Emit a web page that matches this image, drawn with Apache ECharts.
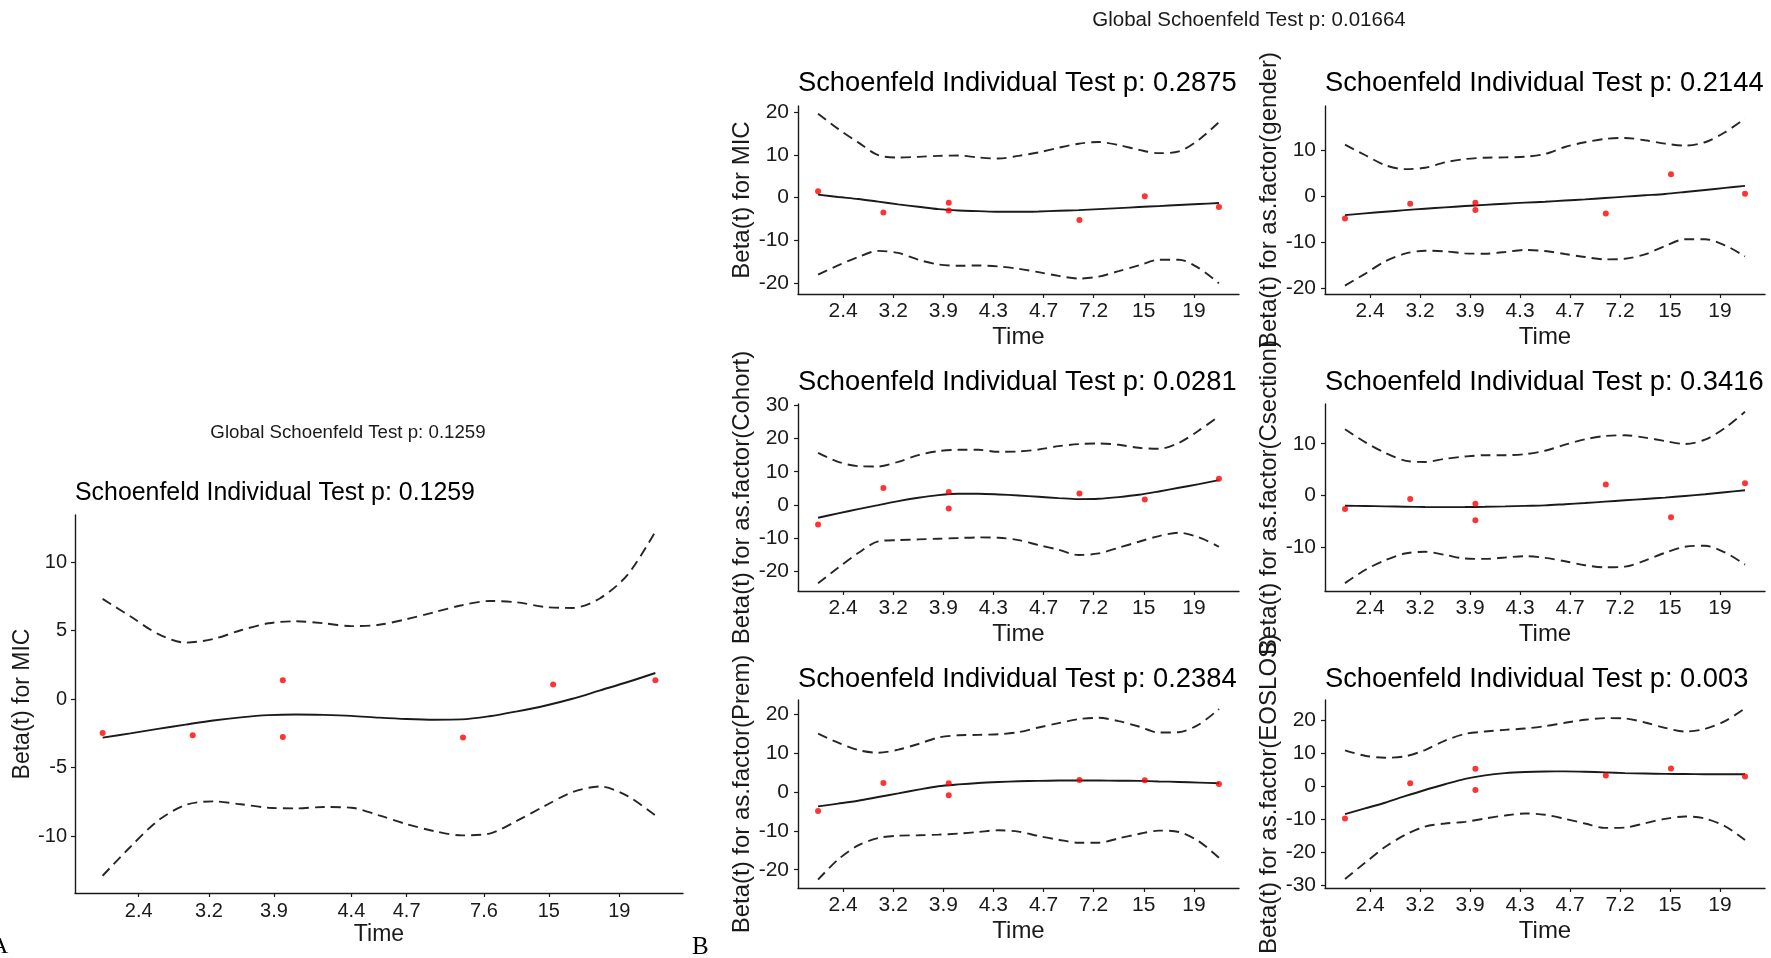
<!DOCTYPE html>
<html>
<head>
<meta charset="utf-8">
<script src="https://cdn.jsdelivr.net/npm/echarts@6/dist/echarts.min.js"></script>
<style>
html, body { margin: 0; padding: 0; background: #fff; }
#main { width: 1771px; height: 958px; }
</style>
</head>
<body>
<div id="main"></div>
<script>
// km-transformed time of each event (x of the scaled Schoenfeld residuals)
const eventX = [0, 0.163, 0.326, 0.326, 0.652, 0.815, 1];
// x positions where the smoothed beta(t) and its confidence band are tabulated
const curveX = [0, 0.05, 0.1, 0.15, 0.2, 0.25, 0.3, 0.35, 0.4, 0.45, 0.5,
                0.55, 0.6, 0.65, 0.7, 0.75, 0.8, 0.85, 0.9, 0.95, 1];
// time axes: tick positions on the transformed scale and their time labels
const timeTickAtA = [0.0653, 0.1924, 0.31, 0.45, 0.55, 0.69, 0.8073, 0.9347];
const timeLabelsA = ['2.4', '3.2', '3.9', '4.4', '4.7', '7.6', '15', '19'];
const timeTickAtB = [0.0625, 0.1875, 0.3125, 0.4375, 0.5625, 0.6875, 0.8125, 0.9375];
const timeLabelsB = ['2.4', '3.2', '3.9', '4.3', '4.7', '7.2', '15', '19'];

// A: model with MIC only
const residA = [-2.47, -2.63, 1.38, -2.76, -2.81, 1.07, 1.38];
const fitA   = [-2.81, -2.5, -2.17, -1.86, -1.56, -1.33, -1.17, -1.12, -1.15, -1.22, -1.35, -1.45, -1.5, -1.48, -1.25, -0.89, -0.48, 0.03, 0.64, 1.25, 1.91];
const upperA = [7.32, 6.05, 4.77, 4.13, 4.39, 5.03, 5.54, 5.69, 5.54, 5.33, 5.43, 5.84, 6.35, 6.86, 7.17, 7.07, 6.73, 6.66, 7.37, 9.1, 12.24];
const lowerA = [-12.9, -10.8, -8.88, -7.73, -7.47, -7.68, -7.93, -7.98, -7.88, -7.93, -8.49, -9.13, -9.64, -9.95, -9.82, -8.88, -7.8, -6.79, -6.38, -7.09, -8.5];
const yTicksA = [-10, -5, 0, 5, 10];

// B: adjusted model, MIC
const residMIC = [1.5, -3.46, -1.18, -2.99, -5.2, 0.31, -2.2];
const fitMIC   = [0.71, 0.16, -0.31, -0.94, -1.57, -2.13, -2.68, -2.99, -3.15, -3.31, -3.31, -3.23, -3.07, -2.91, -2.68, -2.44, -2.2, -1.97, -1.73, -1.5, -1.26];
const upperMIC = [19.6, 16.06, 12.9, 9.92, 9.37, 9.53, 9.76, 9.84, 9.37, 9.13, 9.76, 10.55, 11.65, 12.6, 12.99, 12.28, 11.18, 10.39, 10.79, 13.54, 17.64];
const lowerMIC = [-17.95, -15.83, -13.86, -12.44, -12.91, -14.49, -15.59, -15.91, -15.83, -16.06, -16.61, -17.4, -18.27, -18.9, -18.43, -17.17, -15.83, -14.49, -14.49, -16.46, -20.0];
const yTicksMIC = [-20, -10, 0, 10, 20];

// B: gender
const residGender = [-4.8, -1.6, -1.38, -2.99, -3.71, 4.81, 0.58];
const fitGender   = [-4.08, -3.7, -3.35, -3.0, -2.69, -2.4, -2.11, -1.85, -1.6, -1.38, -1.17, -0.92, -0.66, -0.37, -0.07, 0.22, 0.51, 0.93, 1.38, 1.82, 2.26];
const upperGender = [11.2, 8.96, 6.77, 5.9, 6.19, 7.36, 8.08, 8.38, 8.45, 8.59, 9.18, 10.71, 11.73, 12.45, 12.67, 12.16, 11.43, 11.0, 11.73, 13.91, 16.9];
const lowerGender = [-19.37, -16.82, -14.13, -12.45, -11.8, -11.94, -12.38, -12.45, -12.09, -11.65, -11.87, -12.53, -13.18, -13.69, -13.55, -12.6, -10.78, -9.32, -9.32, -10.63, -13.04];
const yTicksGender = [-20, -10, 0, 10];

// B: Cohort
const residCohort = [-5.95, 5.04, 3.83, -1.11, 3.43, 1.61, 7.86];
const fitCohort   = [-3.93, -2.62, -1.31, -0.1, 1.11, 2.12, 2.92, 3.33, 3.33, 3.13, 2.82, 2.42, 2.02, 1.71, 1.81, 2.32, 3.02, 4.03, 5.14, 6.25, 7.46];
const upperCohort = [15.73, 13.0, 11.69, 11.59, 13.0, 15.02, 16.23, 16.63, 16.63, 16.03, 16.13, 16.73, 17.74, 18.35, 18.55, 18.15, 17.24, 16.94, 18.75, 22.48, 26.81];
const lowerCohort = [-23.79, -19.05, -14.62, -11.09, -10.69, -10.48, -10.28, -10.08, -9.88, -9.98, -10.69, -12.2, -13.61, -15.22, -14.72, -13.0, -11.19, -9.48, -8.47, -9.88, -12.7];
const yTicksCohort = [-20, -10, 0, 10, 20, 30];

// B: Csection
const residCsection = [-2.6, -0.65, -1.56, -4.74, 2.14, -4.16, 2.4];
const fitCsection   = [-1.95, -2.0, -2.08, -2.15, -2.21, -2.22, -2.21, -2.16, -2.08, -1.98, -1.88, -1.66, -1.43, -1.17, -0.91, -0.65, -0.39, -0.07, 0.26, 0.65, 1.04];
const upperCsection = [12.79, 10.32, 8.25, 6.75, 6.49, 7.08, 7.53, 7.79, 7.79, 7.99, 8.64, 9.81, 10.84, 11.49, 11.62, 11.17, 10.52, 9.94, 10.78, 13.05, 16.17];
const lowerCsection = [-16.88, -14.35, -12.47, -11.17, -10.84, -11.43, -12.14, -12.21, -11.95, -11.69, -12.01, -12.66, -13.44, -13.83, -13.7, -12.53, -11.04, -9.87, -9.68, -10.97, -13.31];
const yTicksCsection = [-10, 0, 10];

// B: Prem
const residPrem = [-4.92, 2.33, 2.25, -0.86, 3.11, 3.02, 2.07];
const fitPrem   = [-3.71, -3.0, -2.25, -1.3, -0.35, 0.6, 1.47, 1.95, 2.33, 2.58, 2.76, 2.87, 2.94, 2.95, 2.94, 2.9, 2.85, 2.72, 2.59, 2.42, 2.25];
const upperPrem = [15.03, 12.7, 10.8, 10.11, 10.89, 12.35, 14.0, 14.6, 14.69, 14.86, 15.38, 16.59, 17.71, 18.75, 19.09, 18.23, 16.85, 15.29, 15.38, 17.37, 21.34];
const lowerPrem = [-22.55, -17.37, -13.74, -11.84, -11.23, -11.14, -10.97, -10.71, -10.28, -9.85, -10.19, -11.32, -12.27, -13.05, -13.05, -11.92, -10.8, -9.94, -10.28, -12.7, -16.93];
const yTicksPrem = [-20, -10, 0, 10, 20];

// B: EOSLOS
const residEOSLOS = [-9.74, 0.91, 5.27, -1.12, 3.25, 5.38, 2.94];
const fitEOSLOS   = [-8.42, -6.7, -4.97, -3.0, -1.12, 0.6, 2.23, 3.3, 3.96, 4.3, 4.46, 4.5, 4.4, 4.2, 3.98, 3.85, 3.75, 3.7, 3.65, 3.65, 3.65];
const upperEOSLOS = [10.85, 9.23, 8.62, 9.03, 10.95, 13.79, 15.82, 16.53, 17.04, 17.44, 18.15, 19.17, 20.08, 20.59, 20.49, 19.27, 17.65, 16.53, 17.34, 19.68, 23.53];
const lowerEOSLOS = [-27.99, -23.12, -18.36, -14.71, -12.17, -11.26, -10.75, -9.74, -8.82, -8.22, -8.62, -9.84, -11.26, -12.58, -12.47, -11.16, -9.84, -9.13, -9.74, -12.07, -16.23];
const yTicksEOSLOS = [-30, -20, -10, 0, 10, 20];

const SANS = '"Liberation Sans", Arial, Helvetica, sans-serif';
const SERIF = '"Liberation Serif", "Times New Roman", serif';
const INK = '#1a1a1a';

// text sizes and gaps for the single panel (A) and the six-panel block (B)
const styleA = { tick: 20, name: 23, title: 24.9, xGap: 30.5, yGap: 40, xMargin: 8, yMargin: 8 };
const styleB = { tick: 21, name: 24, title: 27.3, xGap: 31.5, yGap: 44, xMargin: 7, yMargin: 9 };
const axisA = { ticks: timeTickAtA, labels: timeLabelsA };
const axisB = { ticks: timeTickAtB, labels: timeLabelsB };
const panels = [
  { p: '0.1259', yName: 'Beta(t) for MIC', resid: residA, fit: fitA, upper: upperA, lower: lowerA,
    yTicks: yTicksA, yMin: -14.16, yMax: 13.45, time: axisA, st: styleA,
    box: { left: 75, top: 515, width: 608, height: 378 }, titleY: 493 },
  { p: '0.2875', yName: 'Beta(t) for MIC', resid: residMIC, fit: fitMIC, upper: upperMIC, lower: lowerMIC,
    yTicks: yTicksMIC, yMin: -22.5, yMax: 21.4, time: axisB, st: styleB,
    box: { left: 798, top: 106, width: 441, height: 188 }, titleY: 83 },
  { p: '0.2144', yName: 'Beta(t) for as.factor(gender)', resid: residGender, fit: fitGender, upper: upperGender, lower: lowerGender,
    yTicks: yTicksGender, yMin: -21.2, yMax: 19.6, time: axisB, st: styleB,
    box: { left: 1325, top: 106, width: 440, height: 188 }, titleY: 83 },
  { p: '0.0281', yName: 'Beta(t) for as.factor(Cohort)', resid: residCohort, fit: fitCohort, upper: upperCohort, lower: lowerCohort,
    yTicks: yTicksCohort, yMin: -26.1, yMax: 30.5, time: axisB, st: styleB,
    box: { left: 798, top: 404, width: 441, height: 187 }, titleY: 382 },
  { p: '0.3416', yName: 'Beta(t) for as.factor(Csection)', resid: residCsection, fit: fitCsection, upper: upperCsection, lower: lowerCsection,
    yTicks: yTicksCsection, yMin: -18.4, yMax: 17.66, time: axisB, st: styleB,
    box: { left: 1325, top: 404, width: 440, height: 187 }, titleY: 382 },
  { p: '0.2384', yName: 'Beta(t) for as.factor(Prem)', resid: residPrem, fit: fitPrem, upper: upperPrem, lower: lowerPrem,
    yTicks: yTicksPrem, yMin: -24.7, yMax: 23.67, time: axisB, st: styleB,
    box: { left: 798, top: 700, width: 441, height: 188 }, titleY: 679 },
  { p: '0.003', yName: 'Beta(t) for as.factor(EOSLOS)', resid: residEOSLOS, fit: fitEOSLOS, upper: upperEOSLOS, lower: lowerEOSLOS,
    yTicks: yTicksEOSLOS, yMin: -30.73, yMax: 26.06, time: axisB, st: styleB,
    box: { left: 1325, top: 700, width: 440, height: 188 }, titleY: 679 }
];

const pairs = (xs, ys) => ys.map((y, i) => [xs[i], y]);

const grid = [], xAxis = [], yAxis = [], series = [];
const title = [
  { text: 'Global Schoenfeld Test p: 0.1259', left: 348, top: 433, textAlign: 'center', textVerticalAlign: 'middle', padding: 0,
    textStyle: { fontFamily: SANS, fontSize: 18.7, fontWeight: 'normal', color: INK } },
  { text: 'Global Schoenfeld Test p: 0.01664', left: 1249, top: 20, textAlign: 'center', textVerticalAlign: 'middle', padding: 0,
    textStyle: { fontFamily: SANS, fontSize: 20.5, fontWeight: 'normal', color: INK } },
  { text: 'A', left: -9, top: 947, textAlign: 'left', textVerticalAlign: 'middle', padding: 0,
    textStyle: { fontFamily: SERIF, fontSize: 24, fontWeight: 'normal', color: '#000' } },
  { text: 'B', left: 692, top: 947, textAlign: 'left', textVerticalAlign: 'middle', padding: 0,
    textStyle: { fontFamily: SERIF, fontSize: 25, fontWeight: 'normal', color: '#000' } }
];

panels.forEach((pn, i) => {
  const st = pn.st;
  const ticks = pn.time.ticks, labels = pn.time.labels;
  grid.push(Object.assign({ containLabel: false }, pn.box));
  title.push({
    text: 'Schoenfeld Individual Test p: ' + pn.p, left: pn.box.left, top: pn.titleY,
    textAlign: 'left', textVerticalAlign: 'middle', padding: 0,
    textStyle: { fontFamily: SANS, fontSize: st.title, fontWeight: 'normal', color: '#000' }
  });
  xAxis.push({
    type: 'value', gridIndex: i, min: -0.05, max: 1.05,
    name: 'Time', nameLocation: 'middle', nameGap: st.xGap,
    nameTextStyle: { fontFamily: SANS, fontSize: st.name, color: INK },
    axisLine: { show: true, onZero: false, lineStyle: { color: INK, width: 1.4 } },
    axisTick: { show: true, length: 4, customValues: ticks, lineStyle: { color: INK, width: 1.2 } },
    axisLabel: {
      show: true, margin: st.xMargin, customValues: ticks,
      fontFamily: SANS, fontSize: st.tick, color: INK,
      formatter: (v, idx) => {
        const k = ticks.findIndex(t => Math.abs(t - v) < 1e-6);
        return labels[k >= 0 ? k : idx];
      }
    },
    splitLine: { show: false }
  });
  yAxis.push({
    type: 'value', gridIndex: i, min: pn.yMin, max: pn.yMax,
    name: pn.yName, nameLocation: 'middle', nameGap: st.yGap,
    nameTextStyle: { fontFamily: SANS, fontSize: st.name, color: INK },
    axisLine: { show: true, onZero: false, lineStyle: { color: INK, width: 1.4 } },
    axisTick: { show: true, length: 4, customValues: pn.yTicks, lineStyle: { color: INK, width: 1.2 } },
    axisLabel: { show: true, margin: st.yMargin, customValues: pn.yTicks, fontFamily: SANS, fontSize: st.tick, color: INK },
    splitLine: { show: false }
  });
  const lineBase = { type: 'line', xAxisIndex: i, yAxisIndex: i, smooth: 0.3, symbol: 'none', silent: true, animation: false };
  series.push(Object.assign({}, lineBase, { name: 'beta(t)', data: pairs(curveX, pn.fit), lineStyle: { color: INK, width: 1.9 } }));
  series.push(Object.assign({}, lineBase, { name: 'upper', data: pairs(curveX, pn.upper), lineStyle: { color: '#262626', width: 1.9, type: [10, 6] } }));
  series.push(Object.assign({}, lineBase, { name: 'lower', data: pairs(curveX, pn.lower), lineStyle: { color: '#262626', width: 1.9, type: [10, 6] } }));
  series.push({
    type: 'scatter', name: 'residuals', xAxisIndex: i, yAxisIndex: i, animation: false,
    data: pairs(eventX, pn.resid), symbolSize: 6, itemStyle: { color: '#ff0000' }, z: 3
  });
});

const chart = echarts.init(document.getElementById('main'), null, { width: 1771, height: 958 });
chart.setOption({ backgroundColor: '#ffffff', animation: false, title, grid, xAxis, yAxis, series });
</script>
</body>
</html>
